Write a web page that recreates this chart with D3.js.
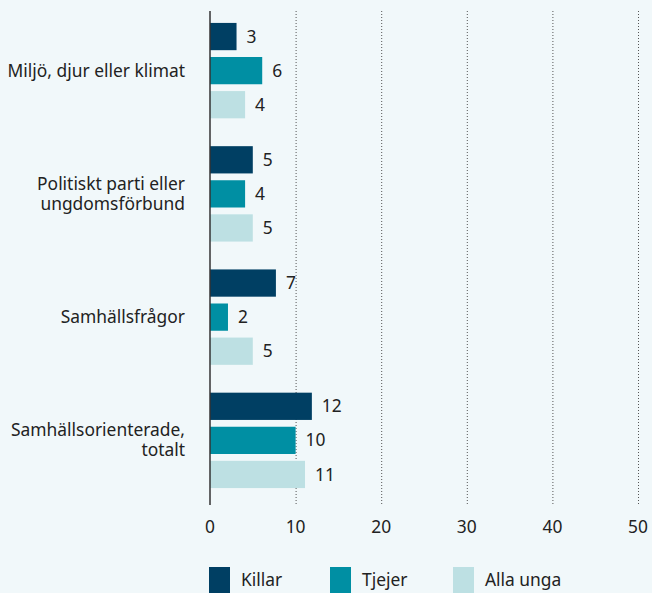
<!DOCTYPE html>
<html><head><meta charset="utf-8">
<script src="https://cdn.jsdelivr.net/npm/d3@7/dist/d3.min.js"></script>
<style>
html,body{margin:0;padding:0;background:#f1f8fa;}
svg{display:block;font-family:"Noto Sans",sans-serif;}
</style></head>
<body>
<svg id="chart" width="652" height="593"></svg>
<script>
const categories = [["Miljö, djur eller klimat"], ["Politiskt parti eller", "ungdomsförbund"], ["Samhällsfrågor"], ["Samhällsorienterade,", "totalt"]];
const seriesNames = ["Killar", "Tjejer", "Alla unga"];
const killar = [3.1, 5, 7.7, 11.9];
const tjejer = [6.1, 4.1, 2.1, 10];
const allaUnga = [4.1, 5, 5, 11.1];
const killarLabels = ["3", "5", "7", "12"];
const tjejerLabels = ["6", "4", "2", "10"];
const allaUngaLabels = ["4", "5", "5", "11"];
const xTicks = [0, 10, 20, 30, 40, 50];
const colors = ["#003f63", "#008fa3", "#bde0e3"];

const seriesValues = [killar, tjejer, allaUnga];
const seriesLabels = [killarLabels, tjejerLabels, allaUngaLabels];
const FS = 17.4;
const svg = d3.select("#chart");
const x = d3.scaleLinear().domain([0, 50]).range([210, 638]);
const y0 = d3.scaleBand().domain(d3.range(categories.length)).range([9, 502]).paddingInner(0.226).paddingOuter(0.113);
const y1 = d3.scaleBand().domain(d3.range(seriesNames.length)).range([0, y0.bandwidth()]).paddingInner(0.2);

// gridlines
svg.append("g").selectAll("line").data(xTicks.filter(d => d > 0)).join("line")
  .attr("x1", d => x(d) + 0.5).attr("x2", d => x(d) + 0.5)
  .attr("y1", 11).attr("y2", 505)
  .attr("stroke", "#555").attr("stroke-width", 1).attr("stroke-dasharray", "1,2");

// bars
const g = svg.append("g");
categories.forEach((c, i) => {
  seriesValues.forEach((vals, s) => {
    const yy = y0(i) + y1(s);
    g.append("rect").attr("x", x(0)).attr("y", yy)
      .attr("width", x(vals[i]) - x(0)).attr("height", y1.bandwidth())
      .attr("fill", colors[s]);
    g.append("text").attr("x", x(vals[i]) + 10).attr("y", yy + y1.bandwidth() / 2)
      .attr("dy", "0.35em").attr("font-size", FS).attr("fill", "#222")
      .text(seriesLabels[s][i]);
  });
  const lines = c;
  const cy = y0(i) + y0.bandwidth() / 2;
  lines.forEach((ln, k) => {
    svg.append("text").attr("text-anchor", "end").attr("font-size", FS).attr("fill", "#222")
      .attr("x", 185)
      .attr("y", cy + (k - (lines.length - 1) / 2) * 20)
      .attr("dy", "0.35em").text(ln);
  });
});

// y axis line
svg.append("line").attr("x1", x(0)).attr("x2", x(0)).attr("y1", 11).attr("y2", 505)
  .attr("stroke", "#333").attr("stroke-width", 1.5);

// x tick labels
svg.append("g").selectAll("text").data(xTicks).join("text")
  .attr("x", d => x(d)).attr("y", 527).attr("dy", "0.35em")
  .attr("text-anchor", "middle").attr("font-size", FS).attr("fill", "#222")
  .text(d => d);

// legend
const legendX = [209, 330, 453];
seriesNames.forEach((n, s) => {
  svg.append("rect").attr("x", legendX[s]).attr("y", 567).attr("width", 21).attr("height", 26).attr("fill", colors[s]);
  svg.append("text").attr("x", legendX[s] + 32).attr("y", 580).attr("dy", "0.35em")
    .attr("font-size", FS).attr("fill", "#222").text(n);
});
</script>
</body></html>
